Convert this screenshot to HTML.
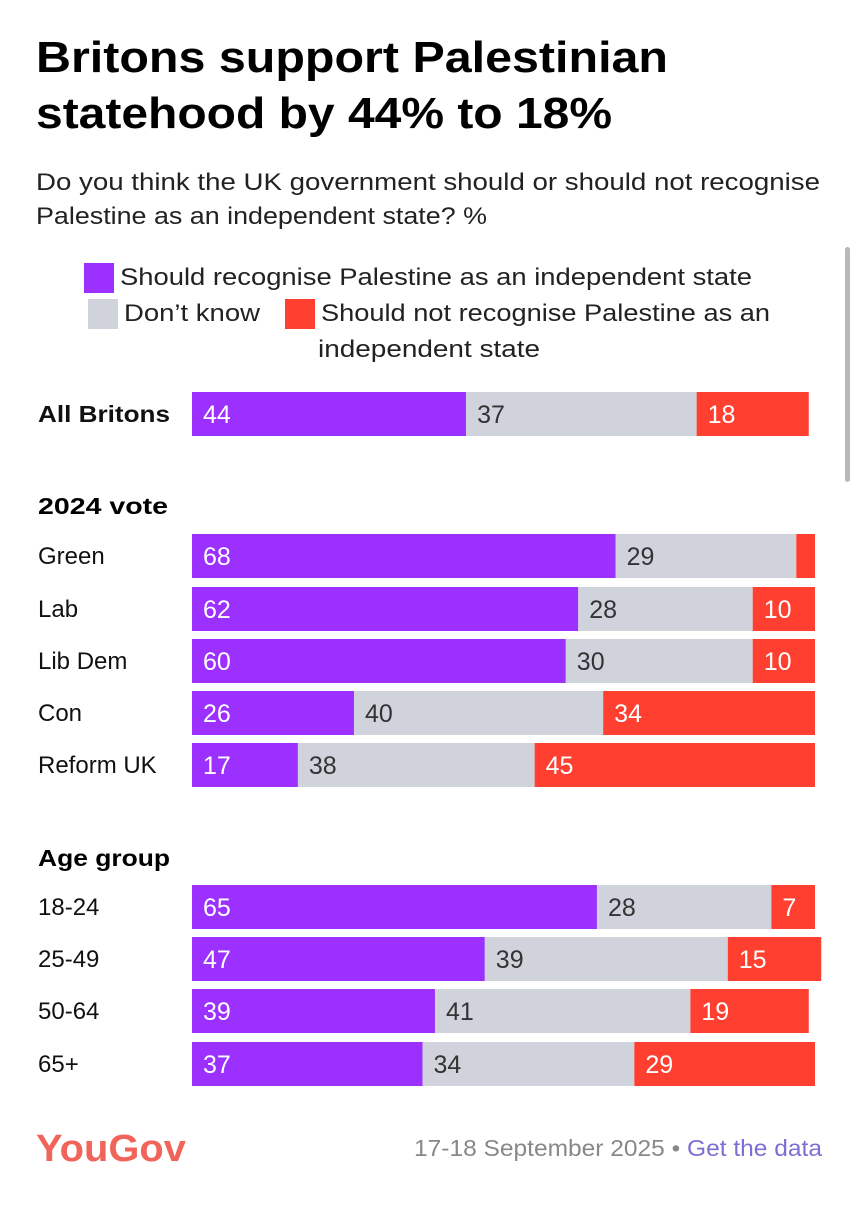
<!DOCTYPE html>
<html><head><meta charset="utf-8"><style>
body{margin:0;background:#fff;width:858px;height:1200px;overflow:hidden;font-family:"Liberation Sans",sans-serif;}
svg text{font-family:"Liberation Sans",sans-serif;}
</style></head><body>
<svg id="chart" width="858" height="1200" xmlns="http://www.w3.org/2000/svg">
<text x="36" y="72" font-size="44" font-weight="bold" fill="#000" textLength="632" lengthAdjust="spacingAndGlyphs">Britons support Palestinian</text>
<text x="36" y="128" font-size="44" font-weight="bold" fill="#000" textLength="576" lengthAdjust="spacingAndGlyphs">statehood by 44% to 18%</text>
<text x="36" y="190" font-size="24" fill="#222" textLength="784" lengthAdjust="spacingAndGlyphs">Do you think the UK government should or should not recognise</text>
<text x="36" y="224" font-size="24" fill="#222" textLength="451" lengthAdjust="spacingAndGlyphs">Palestine as an independent state? %</text>
<rect x="84" y="263" width="30" height="30" fill="#9b30ff"/>
<text x="120" y="285" font-size="24" fill="#222" textLength="632" lengthAdjust="spacingAndGlyphs">Should recognise Palestine as an independent state</text>
<rect x="88" y="299" width="30" height="30" fill="#d0d3dc"/>
<text x="124" y="321" font-size="24" fill="#222" textLength="136" lengthAdjust="spacingAndGlyphs">Don’t know</text>
<rect x="285" y="299" width="30" height="30" fill="#ff4030"/>
<text x="321" y="321" font-size="24" fill="#222" textLength="449" lengthAdjust="spacingAndGlyphs">Should not recognise Palestine as an</text>
<text x="318" y="357" font-size="24" fill="#222" textLength="222" lengthAdjust="spacingAndGlyphs">independent state</text>
<text x="38" y="514" font-size="23" font-weight="bold" fill="#000" textLength="130" lengthAdjust="spacingAndGlyphs">2024 vote</text>
<text x="38" y="866" font-size="23" font-weight="bold" fill="#000" textLength="132" lengthAdjust="spacingAndGlyphs">Age group</text>
<rect x="845" y="247" width="5" height="235" rx="2.5" fill="#b8b8b8"/>
<text x="36" y="1161" font-size="38" font-weight="bold" fill="#f0645a" textLength="150" lengthAdjust="spacingAndGlyphs">YouGov</text>
<text x="414" y="1156" font-size="23" fill="#888" textLength="408" lengthAdjust="spacingAndGlyphs">17-18 September 2025 • <tspan fill="#7b6fd6">Get the data</tspan></text>
<g id="bars"></g>
</svg>
<script>
const categories=["All Britons","Green","Lab","Lib Dem","Con","Reform UK","18-24","25-49","50-64","65+"];
const recognise=[44,68,62,60,26,17,65,47,39,37];
const dontKnow=[37,29,28,30,40,38,28,39,41,34];
const notRecognise=[18,3,10,10,34,45,7,15,19,29];
const showLabel=[true,false,true,true,true,true,true,true,true,true];
const rowTop=[392,534,587,639,691,743,885,937,989,1042];
const x0=192, pxPer=6.23, h=44;
const xs=v=>v*pxPer;
const g=document.getElementById('bars');
const NS="http://www.w3.org/2000/svg";
function mk(tag,attrs){const e=document.createElementNS(NS,tag);for(const k in attrs)e.setAttribute(k,attrs[k]);return e;}
categories.forEach((c,i)=>{
  const y=rowTop[i];
  const lab=mk('text',{x:38,y:y+h/2+8,'font-size':i===0?23:24,fill:'#111','font-weight':i===0?'bold':'normal'});
  lab.textContent=c;
  
  
  if(i===0){lab.setAttribute('textLength','132');lab.setAttribute('lengthAdjust','spacingAndGlyphs');}
  g.appendChild(lab);
  const segs=[[recognise[i],'#9b30ff','#fff','bar-recognise',true],[dontKnow[i],'#d0d3dc','#333','bar-dont-know',true],[notRecognise[i],'#ff4030','#fff','bar-not-recognise',showLabel[i]]];
  let x=x0;
  segs.forEach(s=>{
    const w=xs(s[0]);
    const r=mk('rect',{x:x,y:y,width:w,height:h,fill:s[1]});
    
    
    g.appendChild(r);
    if(s[4]){
      const t=mk('text',{x:x+11,y:y+h/2+9,'font-size':25,fill:s[2]});
      t.textContent=s[0];
      
      
      g.appendChild(t);
    }
    x+=w;
  });
});
</script>
</body></html>
